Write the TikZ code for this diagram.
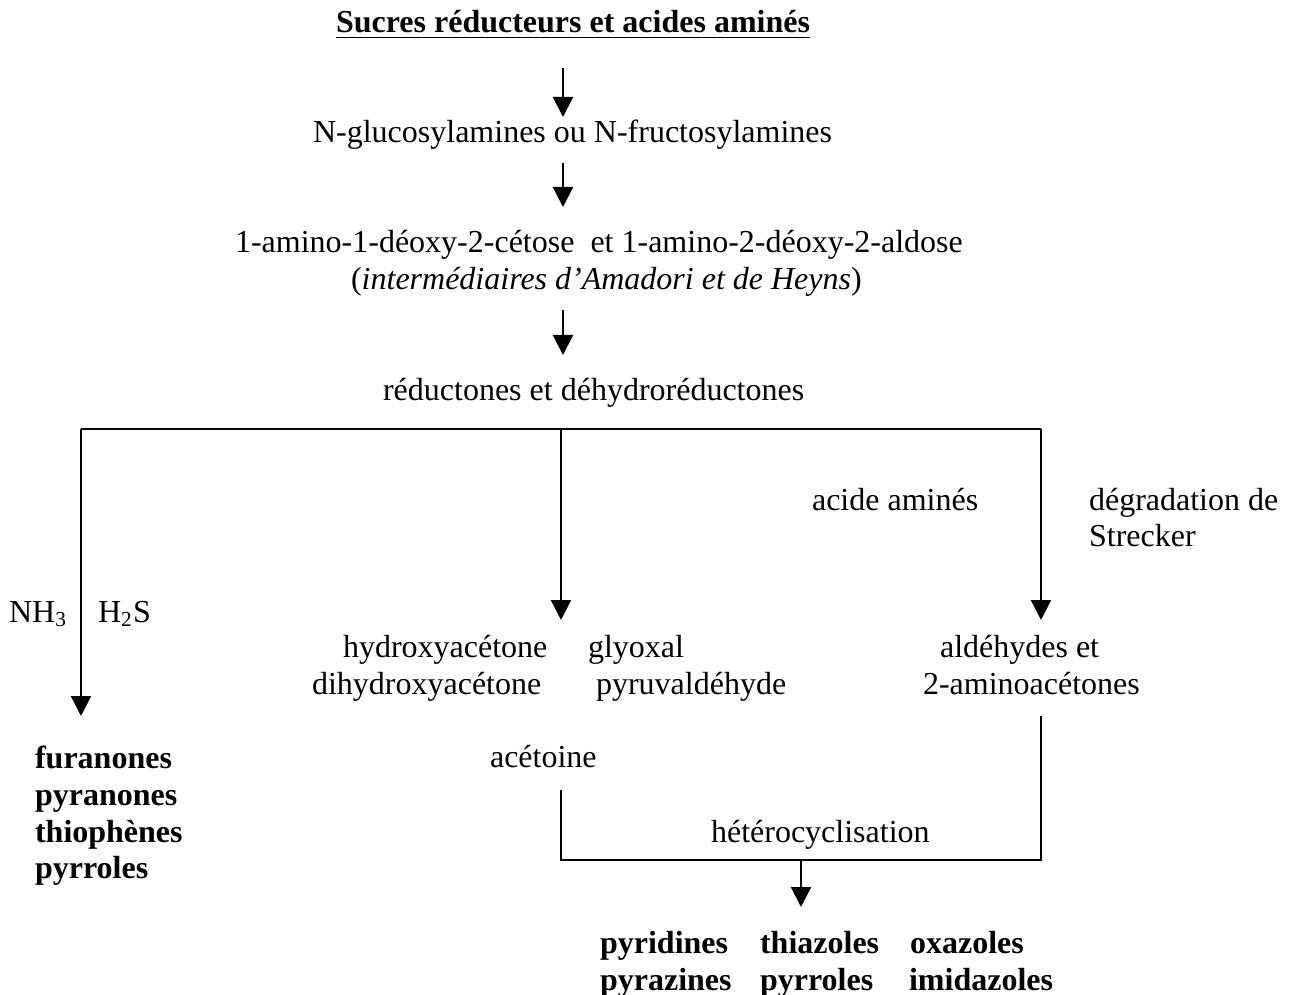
\documentclass[tikz,border=0pt]{standalone}
\usepackage{fontspec}
\setmainfont{Liberation Serif}
\usepackage{tikz}
\usetikzlibrary{arrows.meta}

\begin{document}
\begin{tikzpicture}[x=0.375pt,y=-0.375pt,line width=0.8pt,
    every node/.style={inner sep=0pt,anchor=base west,font=\fontsize{12}{14}\selectfont},
    prod/.style={font=\fontsize{12}{14}\selectfont\bfseries},
    fl/.style={-{Triangle[width=7.5pt,length=7.5pt]}}]
            \useasboundingbox (0,0) rectangle (1291,995);

            % textes
            \node[prod] (t) at (335,33) {\underline{Sucres réducteurs et acides aminés}};
            \node (g) at (312,143) {N-glucosylamines ou N-fructosylamines};
            \node (am) at (234,253) {1-amino-1-déoxy-2-cétose\ \ et 1-amino-2-déoxy-2-aldose};
            \node (ah) at (350,289) {(\textit{intermédiaires d’Amadori et de Heyns})};
            \node (r) at (382,400) {réductones et déhydroréductones};
            \node (aa) at (811,510) {acide aminés};
            \node (s1) at (1088,510) {dégradation de};
            \node (s2) at (1088,547) {Strecker};
            \node (n) at (8,622) {NH\textsubscript{3}};
            \node (h) at (97,622) {H\textsubscript{2}S};
            \node (hy) at (342,657) {hydroxyacétone};
            \node (dh) at (311,694) {dihydroxyacétone};
            \node (gl) at (587,657) {glyoxal};
            \node (py) at (595,694) {pyruvaldéhyde};
            \node (al) at (939,657) {aldéhydes et};
            \node (ac) at (922,694) {2-aminoacétones};
            \node (ct) at (489,767) {acétoine};
            \node (hc) at (710,842) {hétérocyclisation};

            \node[prod] (f1) at (34,768) {furanones};
            \node[prod] (f2) at (34,805) {pyranones};
            \node[prod] (f3) at (34,842) {thiophènes};
            \node[prod] (f4) at (34,878) {pyrroles};

            \node[prod] (p1) at (599,953) {pyridines};
            \node[prod] (p2) at (759,953) {thiazoles};
            \node[prod] (p3) at (909,953) {oxazoles};
            \node[prod] (p4) at (599,990) {pyrazines};
            \node[prod] (p5) at (759,990) {pyrroles};
            \node[prod] (p6) at (908,990) {imidazoles};

            % points des fleches
            \coordinate (a1) at (563,68);
            \coordinate (b1) at (563,117);
            \coordinate (a2) at (563,163);
            \coordinate (b2) at (563,207);
            \coordinate (a3) at (563,310);
            \coordinate (b3) at (563,355);
            \coordinate (kl) at (81,429);
            \coordinate (km) at (561,429);
            \coordinate (kr) at (1041,429);
            \coordinate (el) at (81,716);
            \coordinate (em) at (561,620);
            \coordinate (er) at (1041,620);
            \coordinate (c1) at (561,790);
            \coordinate (c2) at (1041,716);
            \coordinate (c3) at (801,860);
            \coordinate (c4) at (801,907);

            \draw[fl] (a1)--(b1);
            \draw[fl] (a2)--(b2);
            \draw[fl] (a3)--(b3);

            \draw[fl] (el|-kl)--(el);
            \draw (kl)--(kr);
            \draw[fl] (km)--(em);
            \draw[fl] (kr)--(er);

            \draw (c1)--(c1|-c3)--(c2|-c3)--(c2);
            \draw[fl] (c3)--(c4);
        \end{tikzpicture}
\end{document}
